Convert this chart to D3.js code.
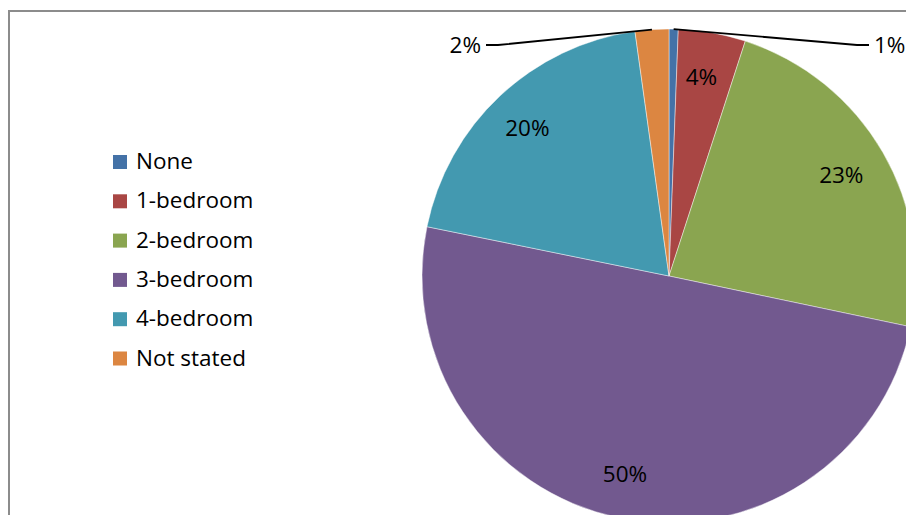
<!DOCTYPE html>
<html>
<head>
<meta charset="utf-8">
<script src="https://cdn.jsdelivr.net/npm/d3@7"></script>
<style>
  html, body { margin: 0; padding: 0; background: #fff; }
  svg { display: block; }
  text { font-family: "Open Sans", "Liberation Sans", sans-serif; fill: #000; }
</style>
</head>
<body>
<svg id="chart" width="906" height="515"></svg>
<script>
// Dwelling size: share of households by number of bedrooms (%)
const categories = ["None", "1-bedroom", "2-bedroom", "3-bedroom", "4-bedroom", "Not stated"];
const shares = [0.6, 4.4, 23.3, 49.9, 19.6, 2.2];
const colors = ["#4472A7", "#A94644", "#8AA550", "#72598F", "#4399B0", "#DC8641"];
// slices whose label sits outside the pie with a leader line
const outsideLabels = ["None", "Not stated"];

const W = 906, H = 515;
const FONT = "22.5px";
const svg = d3.select("#chart");

// chart frame (runs past the right and bottom edges)
svg.append("rect")
  .attr("x", 9).attr("y", 11)
  .attr("width", 1200).attr("height", 1200)
  .attr("fill", "none")
  .attr("stroke", "#8c8c8c")
  .attr("stroke-width", 2);

const data = categories.map((c, i) => ({ name: c, value: shares[i], color: colors[i] }));
const total = d3.sum(shares);
const fmt = v => Math.round(v / total * 100) + "%";

const cx = 669, cy = 276, R = 247;

const pie = d3.pie().value(d => d.value).sort(null);
const arcs = pie(data);
const arc = d3.arc().innerRadius(0).outerRadius(R);
const labelArc = d3.arc().innerRadius(R * 0.82).outerRadius(R * 0.82);

const g = svg.append("g").attr("transform", `translate(${cx},${cy})`);

g.selectAll("path.slice")
  .data(arcs)
  .join("path")
  .attr("class", "slice")
  .attr("d", arc)
  .attr("fill", d => d.data.color)
  .attr("stroke", "rgba(255,255,255,0.55)")
  .attr("stroke-width", 0.8);

// labels inside the slices
g.selectAll("text.inlabel")
  .data(arcs.filter(d => !outsideLabels.includes(d.data.name)))
  .join("text")
  .attr("class", "inlabel")
  .attr("x", d => labelArc.centroid(d)[0] - 3)
  .attr("y", d => labelArc.centroid(d)[1])
  .attr("dy", "0.36em")
  .attr("text-anchor", "middle")
  .style("font-size", FONT)
  .text(d => fmt(d.data.value));

// outside labels with leader lines
const outer = arcs.filter(d => outsideLabels.includes(d.data.name));
outer.forEach(d => {
  const mid = (d.startAngle + d.endAngle) / 2;
  // angle measured clockwise from 12 o'clock; fold to the side it leans to
  const side = Math.sin(mid) >= 0 ? 1 : -1;
  const p0 = [Math.sin(mid) * R, -Math.cos(mid) * R];
  const elbowY = -R + 16;
  const elbowX = side > 0 ? 188 : -171;
  const endX = elbowX + side * 12;
  g.append("path")
    .attr("d", d3.line()([p0, [elbowX, elbowY], [endX, elbowY]]))
    .attr("fill", "none")
    .attr("stroke", "#000")
    .attr("stroke-width", 1.8);
  g.append("text")
    .attr("x", endX + side * 5)
    .attr("y", elbowY)
    .attr("dy", "0.36em")
    .attr("text-anchor", side > 0 ? "start" : "end")
    .style("font-size", FONT)
    .text(fmt(d.data.value));
});

// legend
const legend = svg.append("g").attr("transform", "translate(113,162)");
const rowH = 39.3;
const rows = legend.selectAll("g.row")
  .data(data)
  .join("g")
  .attr("class", "row")
  .attr("transform", (d, i) => `translate(0,${i * rowH})`);
rows.append("rect")
  .attr("x", 0).attr("y", -7)
  .attr("width", 14).attr("height", 14)
  .attr("fill", d => d.color);
rows.append("text")
  .attr("x", 23).attr("y", -1)
  .attr("dy", "0.36em")
  .style("font-size", FONT)
  .text(d => d.name);
</script>
</body>
</html>
